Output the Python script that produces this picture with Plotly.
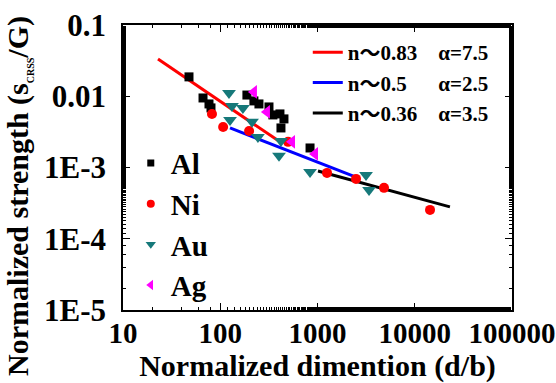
import plotly.graph_objects as go

# ---- data ----
al_x = [47.7, 66.5, 76.6, 80.3, 188, 222, 250, 317, 348, 411, 452, 421, 838]
al_y = [0.0187, 0.00946, 0.0078, 0.00686, 0.0104, 0.0086, 0.0078, 0.00708, 0.00547, 0.00565, 0.00481, 0.00359, 0.00188]

ni_x = [82.2, 107, 198, 498, 1253, 2490, 4830, 14360]
ni_y = [0.00565, 0.00371, 0.00326, 0.00229, 0.00084, 0.000692, 0.000518, 0.000254]

au_x = [123, 132, 171, 126, 212, 244, 421, 402, 838, 3155, 3388]
au_y = [0.0111, 0.00731, 0.00686, 0.00466, 0.00437, 0.00269, 0.00236, 0.00146, 0.000867, 0.000787, 0.000485]

ag_x = [222, 302, 547, 942]
ag_y = [0.0115, 0.00603, 0.00229, 0.00155]

fit_red_x = [22.9, 411]
fit_red_y = [0.0334, 0.00229]
fit_blue_x = [126, 2606]
fit_blue_y = [0.00359, 0.000714]
fit_black_x = [1012, 23000]
fit_black_y = [0.000895, 0.00028]

fit_labels = ["n\uff5e0.83\u00a0\u00a0\u00a0\u00a0\u03b1=7.5",
              "n\uff5e0.5\u00a0\u00a0\u00a0\u00a0\u00a0\u00a0\u03b1=2.5",
              "n\uff5e0.36\u00a0\u00a0\u00a0\u00a0\u03b1=3.5"]

x_tickvals = [10, 100, 1000, 10000, 100000]
x_ticktext = ["10", "100", "1000", "10000", "100000"]
y_tickvals = [0.1, 0.01, 0.001, 0.0001, 0.00001]
y_ticktext = ["0.1", "0.01", "1E-3", "1E-4", "1E-5"]

y_title = "Normalized strength (s<sub><span style='font-size:10px'>CRSS</span></sub>/G)"

FONT = "Liberation Serif"
LEG_FONT = "Liberation Serif, Noto Sans CJK JP"
AU_COLOR = "#16797a"

fig = go.Figure()

fig.add_trace(go.Scatter(x=fit_red_x, y=fit_red_y, mode="lines", name=fit_labels[0],
                         line=dict(color="#ff0000", width=3), legend="legend2"))
fig.add_trace(go.Scatter(x=fit_blue_x, y=fit_blue_y, mode="lines", name=fit_labels[1],
                         line=dict(color="#0000ff", width=3), legend="legend2"))
fig.add_trace(go.Scatter(x=fit_black_x, y=fit_black_y, mode="lines", name=fit_labels[2],
                         line=dict(color="#000000", width=3), legend="legend2"))

series = [
    ("Al", al_x, al_y, "square", "#000000", 9, 7),
    ("Ni", ni_x, ni_y, "circle", "#ff0000", 10, 8),
    ("Au", au_x, au_y, "triangle-down", AU_COLOR, 12, 9),
    ("Ag", ag_x, ag_y, "triangle-left", "#ff00ff", 12, 9),
]
for name, xs, ys, sym, col, sz, lsz in series:
    fig.add_trace(go.Scatter(x=xs, y=ys, mode="markers", name=name, showlegend=False,
                             legendgroup=name,
                             marker=dict(symbol=sym, color=col, size=sz)))
for name, xs, ys, sym, col, sz, lsz in series:
    fig.add_trace(go.Scatter(x=[None], y=[None], mode="markers", name=name, legendgroup=name,
                             marker=dict(symbol=sym, color=col, size=lsz)))

axis_common = dict(
    type="log", showline=True, linecolor="black", linewidth=1.5, mirror="allticks",
    ticks="inside", ticklen=7, tickwidth=1.2, tickcolor="black", showgrid=False, zeroline=False,
    automargin=False,
    minor=dict(ticks="inside", ticklen=3.5, tickwidth=1, tickcolor="black", showgrid=False),
)

fig.update_xaxes(**axis_common, range=[1, 5], tickvals=x_tickvals, ticktext=x_ticktext,
                 ticklabelstandoff=-4,
                 tickfont=dict(family=FONT, size=29, color="black", weight="bold"),
                 title=dict(text="Normalized dimention (d/b)", standoff=8,
                            font=dict(family=FONT, size=30, color="black", weight="bold")))
fig.update_yaxes(**axis_common, range=[-5, -1], tickvals=y_tickvals, ticktext=y_ticktext,
                 ticklabelstandoff=9,
                 tickfont=dict(family=FONT, size=31, color="black", weight="bold"))

fig.add_annotation(text=y_title, textangle=-90, xref="paper", yref="paper",
                   x=-0.27, y=0.40, xanchor="center", yanchor="middle", showarrow=False,
                   font=dict(family=FONT, size=30, color="black", weight="bold"))

fig.update_layout(
    width=556, height=383,
    margin=dict(l=123, r=44, t=25, b=73),
    paper_bgcolor="white", plot_bgcolor="white",
    showlegend=True,
    legend=dict(x=0.02, y=0.605, xanchor="left", yanchor="top", bgcolor="rgba(0,0,0,0)",
                font=dict(family=FONT, size=29, color="black", weight="bold"),
                tracegroupgap=0),
    legend2=dict(x=0.475, y=0.975, xanchor="left", yanchor="top", bgcolor="rgba(0,0,0,0)",
                 font=dict(family=LEG_FONT, size=21, color="black", weight="bold")),
)

fig.write_html("out.html", config={"displayModeBar": False},
               post_script="document.body.style.margin='0px';")
